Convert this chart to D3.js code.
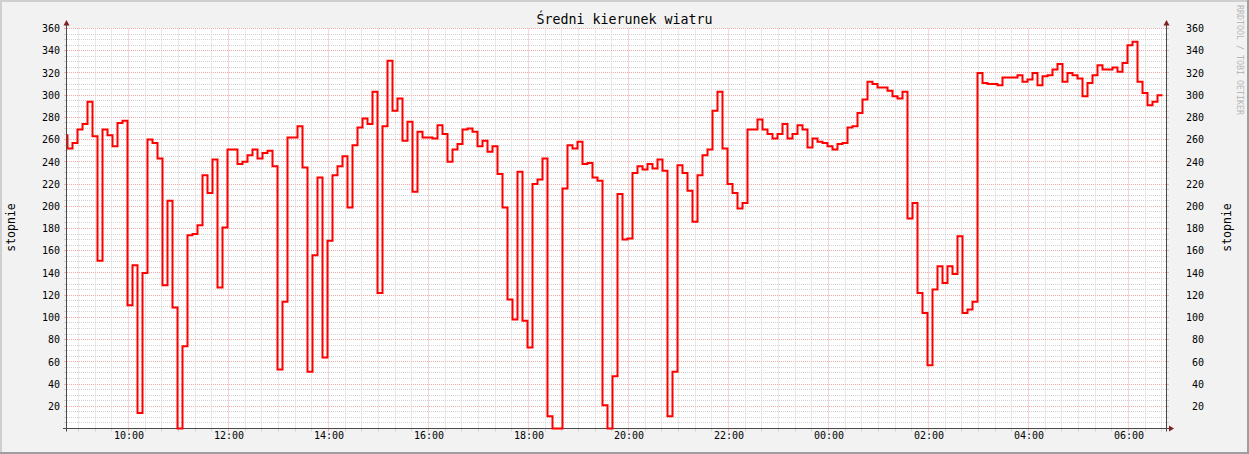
<!DOCTYPE html>
<html>
<head>
<meta charset="utf-8">
<script src="https://d3js.org/d3.v7.min.js"></script>
<title>Średni kierunek wiatru</title>
<style>
    body { margin: 0; background: #f2f2f2; }
    text { font-family: "DejaVu Sans Mono", monospace; fill: #000; }
</style>
</head>
<body>
<script>
    // chart texts
    const TITLE = "Średni kierunek wiatru";
    const UNIT = "stopnie";
    const WATERMARK = "RRDTOOL / TOBI OETIKER";

    // time window and sampling (6 min steps)
    const FIRST_SAMPLE = "2013-01-15 08:42";
    const STEP_MINUTES = 6;
    const VIEW_START = "2013-01-15 08:46:12";
    const VIEW_END = "2013-01-16 06:46:12";

    // tick labels
    const yTickValues = [20, 40, 60, 80, 100, 120, 140, 160, 180, 200, 220, 240, 260, 280, 300, 320, 340, 360];
    const xTickLabels = ["10:00", "12:00", "14:00", "16:00", "18:00", "20:00", "22:00", "00:00", "02:00", "04:00", "06:00"];

    // wind direction in degrees, one value per step
    const dirMorning = [264, 252, 257, 269, 274, 294, 263, 151, 269, 264, 254, 275, 277, 111, 147, 14, 140, 260, 257, 243,
        129, 205, 109, 0, 74, 174, 175, 183, 228, 212, 242, 127, 181, 251, 251, 238, 240, 246, 251, 243,
        248, 250, 236, 53, 114, 262, 262, 272, 235, 51];
    const dirAfternoon = [156, 226, 64, 169, 228, 236, 245, 199, 255, 271, 279, 274, 303, 122, 272, 331, 286, 297, 259, 276,
        213, 267, 262, 262, 261, 273, 265, 240, 251, 256, 269, 270, 267, 254, 259, 249, 254, 229, 199, 116,
        98, 231, 97, 73, 220, 224, 243, 11];
    const dirEvening = [0, 0, 216, 255, 252, 258, 238, 239, 226, 223, 21, 0, 47, 211, 170, 171, 230, 236, 233, 238,
        234, 242, 232, 11, 51, 237, 230, 214, 186, 228, 246, 251, 286, 303, 252, 220, 212, 198, 203, 269,
        269, 278, 269, 265, 261, 265, 274, 261];
    const dirNight = [265, 273, 269, 253, 261, 258, 257, 254, 251, 256, 257, 271, 272, 284, 296, 312, 310, 307, 307, 304,
        299, 297, 303, 189, 203, 122, 104, 57, 125, 146, 131, 146, 139, 173, 104, 107, 114, 320, 311, 310,
        310, 309, 316, 316, 316, 318, 312];
    const dirEarly = [314, 320, 309, 317, 318, 323, 328, 312, 320, 318, 315, 299, 311, 318, 327, 323, 323, 325, 321, 329,
        345, 348, 312, 302, 291, 294, 300];

    const parseMin = d3.timeParse("%Y-%m-%d %H:%M");
    const parseSec = d3.timeParse("%Y-%m-%d %H:%M:%S");

    const values = dirMorning.concat(dirAfternoon, dirEvening, dirNight, dirEarly);
    const t0 = parseMin(FIRST_SAMPLE);
    const data = values.map(function (v, i) {
        return {t: d3.timeMinute.offset(t0, i * STEP_MINUTES), v: v};
    });
    // close the last step
    data.push({t: d3.timeMinute.offset(t0, values.length * STEP_MINUTES), v: values[values.length - 1]});

    const W = 1249, H = 454;
    const plotLeft = 67, plotRight = 1167, plotTop = 28.5, plotBottom = 428.5;

    const x = d3.scaleTime().domain([parseSec(VIEW_START), parseSec(VIEW_END)]).range([plotLeft, plotRight]);
    const y = d3.scaleLinear().domain([0, 360]).range([plotBottom, plotTop]);

    // tick dates from the labels
    let day = parseSec(VIEW_START), prevH = -1;
    const xTickDates = xTickLabels.map(function (lbl) {
        const h = +lbl.split(":")[0];
        if (h < prevH) day = d3.timeDay.offset(day, 1);
        prevH = h;
        return d3.timeHour.offset(d3.timeDay.floor(day), h);
    });

    const svg = d3.select("body").append("svg").attr("width", W).attr("height", H);

    // background and 3d border
    svg.append("rect").attr("width", W).attr("height", H).attr("fill", "#f2f2f2");
    svg.append("rect").attr("x", 0).attr("y", 0).attr("width", W).attr("height", 2).attr("fill", "#cfcfcf");
    svg.append("rect").attr("x", 0).attr("y", 0).attr("width", 2).attr("height", H).attr("fill", "#cfcfcf");
    svg.append("rect").attr("x", 0).attr("y", H - 2).attr("width", W).attr("height", 2).attr("fill", "#9e9e9e");
    svg.append("rect").attr("x", W - 2).attr("y", 0).attr("width", 2).attr("height", H).attr("fill", "#9e9e9e");

    // canvas
    svg.append("rect").attr("x", plotLeft).attr("y", plotTop - 0.5)
        .attr("width", plotRight - plotLeft).attr("height", plotBottom - plotTop + 0.5).attr("fill", "#fff");

    const px = function (v) { return Math.floor(v) + 0.5; };
    const GRID = "#d2d2d2", MGRID = "#f2aaaa";

    // horizontal grid, minor every 5, major every 20
    const g = svg.append("g");
    d3.range(5, 361, 5).forEach(function (v) {
        const major = v % 20 === 0;
        const yy = px(y(v));
        const col = major ? MGRID : GRID;
        g.append("line").attr("x1", plotLeft).attr("x2", plotRight).attr("y1", yy).attr("y2", yy)
            .attr("stroke", col).attr("stroke-dasharray", "1,1");
        g.append("line").attr("x1", plotLeft - 3).attr("x2", plotLeft).attr("y1", yy).attr("y2", yy).attr("stroke", col);
        g.append("line").attr("x1", plotRight).attr("x2", plotRight + 2).attr("y1", yy).attr("y2", yy).attr("stroke", col);
    });

    // vertical grid, minor every 20 minutes, major every 2 hours
    x.ticks(d3.timeMinute.every(20)).forEach(function (d) {
        const major = d.getMinutes() === 0 && d.getHours() % 2 === 0;
        const xx = px(x(d));
        const col = major ? MGRID : GRID;
        g.append("line").attr("x1", xx).attr("x2", xx).attr("y1", plotTop).attr("y2", plotBottom)
            .attr("stroke", col).attr("stroke-dasharray", "1,1");
        g.append("line").attr("x1", xx).attr("x2", xx).attr("y1", plotBottom).attr("y2", plotBottom + 3).attr("stroke", col);
    });

    // axes lines and arrows
    const AXIS = "#4a4a4a", ARROW = "#801f1f";
    svg.append("line").attr("x1", plotLeft - 0.5).attr("x2", plotLeft - 0.5).attr("y1", 25).attr("y2", plotBottom + 3).attr("stroke", AXIS);
    svg.append("line").attr("x1", plotRight - 0.5).attr("x2", plotRight - 0.5).attr("y1", 25).attr("y2", plotBottom + 3).attr("stroke", AXIS);
    svg.append("line").attr("x1", plotLeft - 4).attr("x2", plotRight + 2).attr("y1", plotBottom).attr("y2", plotBottom).attr("stroke", AXIS);
    [plotLeft - 0.5, plotRight - 0.5].forEach(function (ax) {
        svg.append("path").attr("d", "M" + ax + ",20 L" + (ax - 3) + ",25.5 L" + (ax + 3) + ",25.5 Z").attr("fill", ARROW);
    });
    svg.append("path").attr("d", "M" + (plotRight + 7) + "," + plotBottom + " L" + (plotRight + 2) + "," + (plotBottom - 3) +
        " L" + (plotRight + 2) + "," + (plotBottom + 3) + " Z").attr("fill", ARROW);

    // axis labels via d3 axes
    function styleAxis(sel) {
        sel.select(".domain").remove();
        sel.selectAll(".tick line").remove();
        sel.selectAll("text").attr("font-family", "DejaVu Sans Mono").attr("font-size", 10).attr("fill", "#000");
    }
    svg.append("g").attr("transform", "translate(60,0)")
        .call(d3.axisLeft(y).tickValues(yTickValues).tickSize(0).tickPadding(0).tickFormat(d3.format("d")))
        .call(styleAxis);
    svg.append("g").attr("transform", "translate(1204,0)")
        .call(d3.axisLeft(y).tickValues(yTickValues).tickSize(0).tickPadding(0).tickFormat(d3.format("d")))
        .call(styleAxis);
    svg.append("g").attr("transform", "translate(0,432)")
        .call(d3.axisBottom(x).tickValues(xTickDates).tickSize(0).tickPadding(0)
            .tickFormat(function (d, i) { return xTickLabels[i]; }))
        .call(styleAxis);

    // the data line
    svg.append("clipPath").attr("id", "plotclip").append("rect")
        .attr("x", plotLeft).attr("y", 0).attr("width", plotRight - plotLeft).attr("height", plotBottom + 2);

    const line = d3.line()
        .x(function (d) { return x(d.t); })
        .y(function (d) { return y(d.v); })
        .curve(d3.curveStepAfter);

    svg.append("g").attr("clip-path", "url(#plotclip)")
        .append("path").datum(data)
        .attr("transform", "translate(-1,0)")
        .attr("fill", "none")
        .attr("stroke", "#ff0000")
        .attr("stroke-width", 2)
        .attr("d", line);

    // titles
    svg.append("text").attr("x", 624.5).attr("y", 23.5).attr("text-anchor", "middle")
        .attr("font-size", 13.3).text(TITLE);
    svg.append("text").attr("transform", "translate(14.5,227.5) rotate(-90)").attr("text-anchor", "middle")
        .attr("font-size", 11.5).text(UNIT);
    svg.append("text").attr("transform", "translate(1231,227.5) rotate(-90)").attr("text-anchor", "middle")
        .attr("font-size", 11.5).text(UNIT);
    svg.append("text").attr("transform", "translate(1237,5) rotate(90)")
        .attr("font-size", 8.3).style("fill", "#b8b8b8").text(WATERMARK);
</script>
</body>
</html>
